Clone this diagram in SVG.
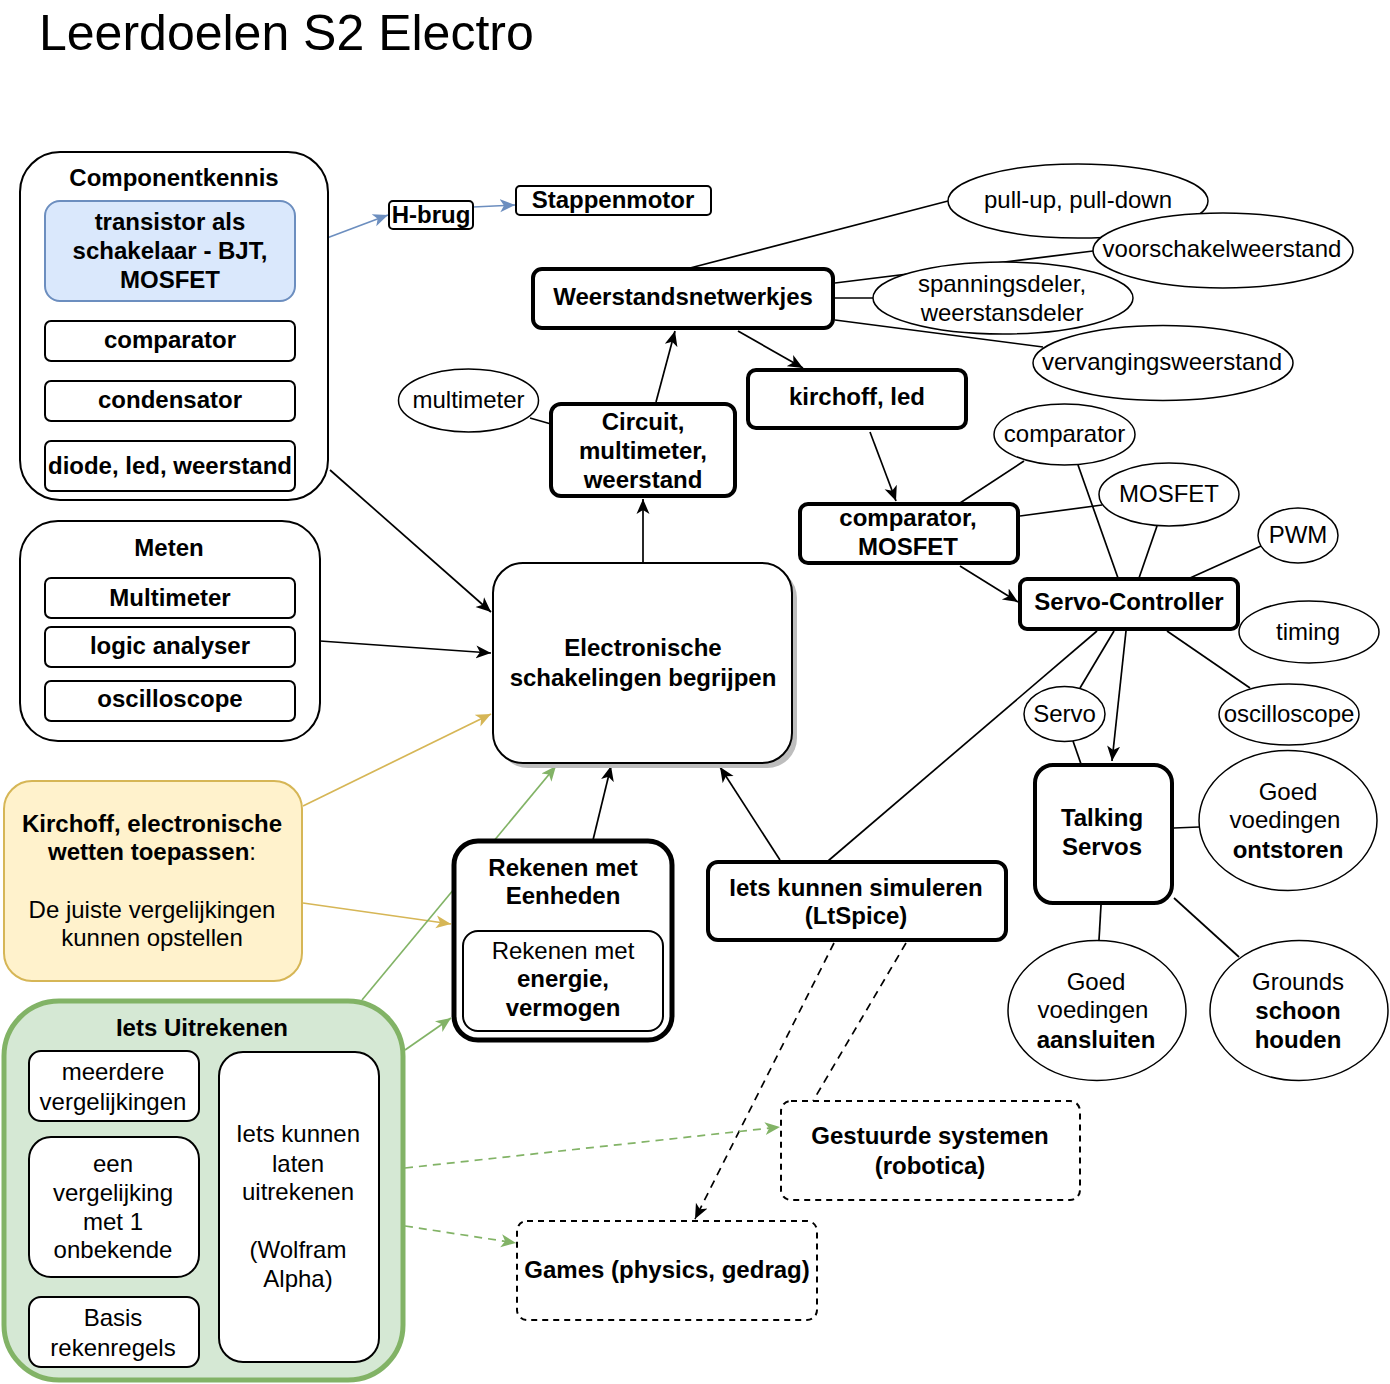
<svg xmlns="http://www.w3.org/2000/svg" width="1390" height="1384" viewBox="0 0 1390 1384">
<defs>
<style>
text{font-family:"Liberation Sans",Arial,Helvetica,sans-serif;font-size:24px;text-anchor:middle;fill:#000}
.b{font-weight:bold}
.n{font-weight:normal}
.t{font-size:50px;text-anchor:start}
.box{fill:#fff;stroke:#000;stroke-width:2}
.thick{fill:#fff;stroke:#000;stroke-width:4}
.ell{fill:#fff;stroke:#000;stroke-width:1.5}
.dash{fill:#fff;stroke:#000;stroke-width:2;stroke-dasharray:6 5}
.ln{fill:none;stroke:#000;stroke-width:1.7}
.blue{fill:none;stroke:#6c8ebf;stroke-width:1.7}
.yel{fill:none;stroke:#d6b656;stroke-width:1.7}
.grn{fill:none;stroke:#82b366;stroke-width:1.7}
.dl{stroke-dasharray:8 6}
</style>
<marker id="ak" viewBox="0 0 15 15" refX="15" refY="7.5" markerWidth="15" markerHeight="15" markerUnits="userSpaceOnUse" orient="auto"><path d="M0,1 L15,7.5 L0,14 L4,7.5 Z" fill="#000"/></marker>
<marker id="ab" viewBox="0 0 15 15" refX="15" refY="7.5" markerWidth="15" markerHeight="15" markerUnits="userSpaceOnUse" orient="auto"><path d="M0,1 L15,7.5 L0,14 L4,7.5 Z" fill="#6c8ebf"/></marker>
<marker id="ay" viewBox="0 0 15 15" refX="15" refY="7.5" markerWidth="15" markerHeight="15" markerUnits="userSpaceOnUse" orient="auto"><path d="M0,1 L15,7.5 L0,14 L4,7.5 Z" fill="#d6b656"/></marker>
<marker id="ag" viewBox="0 0 15 15" refX="15" refY="7.5" markerWidth="15" markerHeight="15" markerUnits="userSpaceOnUse" orient="auto"><path d="M0,1 L15,7.5 L0,14 L4,7.5 Z" fill="#82b366"/></marker>
</defs>
<rect x="0" y="0" width="1390" height="1384" fill="#fff"/>
<text class="t" x="39" y="50">Leerdoelen S2 Electro</text>

<g id="connectors">
<path class="blue" d="M295,250 L388,215" marker-end="url(#ab)"/>
<path class="blue" d="M473,207 L515,205" marker-end="url(#ab)"/>
<path class="ln" d="M330,470 L491,612" marker-end="url(#ak)"/>
<path class="ln" d="M320,641 L491,653" marker-end="url(#ak)"/>
<path class="ln" d="M643,563 L643,499" marker-end="url(#ak)"/>
<path class="ln" d="M656,402 L675,331" marker-end="url(#ak)"/>
<path class="ln" d="M738,331 L803,368" marker-end="url(#ak)"/>
<path class="ln" d="M870,432 L896,501" marker-end="url(#ak)"/>
<path class="ln" d="M960,566 L1018,602" marker-end="url(#ak)"/>
<path class="ln" d="M593,840 L611,766" marker-end="url(#ak)"/>
<path class="ln" d="M780,860 L720,767" marker-end="url(#ak)"/>
<path class="ln" d="M1126,631 L1112,761" marker-end="url(#ak)"/>
<path class="ln" d="M530,418 L551,424"/>
<path class="ln" d="M690,268 L948,201"/>
<path class="ln" d="M835,283 L1093,251"/>
<path class="ln" d="M835,298 L873,298"/>
<path class="ln" d="M835,320 L1043,347"/>
<path class="ln" d="M960,503 L1024,461"/>
<path class="ln" d="M1020,516 L1102,505"/>
<path class="ln" d="M1078,465 L1118,578"/>
<path class="ln" d="M1157,526 L1139,578"/>
<path class="ln" d="M1261,546 L1190,578"/>
<path class="ln" d="M1097,631 L828,861"/>
<path class="ln" d="M1114,631 L1080,688"/>
<path class="ln" d="M1167,631 L1250,688"/>
<path class="ln" d="M1073,741 L1081,764"/>
<path class="ln" d="M1174,828 L1199,827"/>
<path class="ln" d="M1101,905 L1099,940"/>
<path class="ln" d="M1174,898 L1239,957"/>
<path class="ln dl" d="M834,943 L695,1219" marker-end="url(#ak)"/>
<path class="ln dl" d="M906,943 L813,1101"/>
<path class="yel" d="M303,806 L491,714" marker-end="url(#ay)"/>
<path class="yel" d="M303,903 L451,924" marker-end="url(#ay)"/>
<path class="grn" d="M362,1000 L556,766" marker-end="url(#ag)"/>
<path class="grn" d="M405,1050 L451,1018" marker-end="url(#ag)"/>
<path class="grn dl" d="M405,1168 L780,1127" marker-end="url(#ag)"/>
<path class="grn dl" d="M405,1226 L516,1243" marker-end="url(#ag)"/>
</g>

<g id="componentkennis">
<rect class="box" x="20" y="152" width="308" height="348" rx="40"/>
<text class="b" x="174" y="186">Componentkennis</text>
</g>
<g id="transistor">
<rect x="45" y="201" width="250" height="100" rx="15" fill="#dae8fc" stroke="#6c8ebf" stroke-width="2"/>
<text class="b" x="170" y="230">transistor als</text>
<text class="b" x="170" y="259">schakelaar - BJT,</text>
<text class="b" x="170" y="288">MOSFET</text>
</g>
<g id="comparator-k">
<rect class="box" x="45" y="321" width="250" height="40" rx="6"/>
<text class="b" x="170" y="348">comparator</text>
</g>
<g id="condensator">
<rect class="box" x="45" y="381" width="250" height="40" rx="6"/>
<text class="b" x="170" y="408">condensator</text>
</g>
<g id="diode">
<rect class="box" x="45" y="441" width="250" height="50" rx="6"/>
<text class="b" x="170" y="474">diode, led, weerstand</text>
</g>

<g id="hbrug">
<rect class="box" x="389" y="201" width="84" height="28" rx="4"/>
<text class="b" x="431" y="223">H-brug</text>
</g>
<g id="stappenmotor">
<rect class="box" x="516" y="186" width="195" height="29" rx="4"/>
<text class="b" x="613" y="208">Stappenmotor</text>
</g>

<g id="meten">
<rect class="box" x="20" y="521" width="300" height="220" rx="38"/>
<text class="b" x="169" y="556">Meten</text>
</g>
<g id="multimeter-m">
<rect class="box" x="45" y="578" width="250" height="40" rx="6"/>
<text class="b" x="170" y="606">Multimeter</text>
</g>
<g id="logic">
<rect class="box" x="45" y="627" width="250" height="40" rx="6"/>
<text class="b" x="170" y="654">logic analyser</text>
</g>
<g id="oscilloscope-m">
<rect class="box" x="45" y="681" width="250" height="40" rx="6"/>
<text class="b" x="170" y="707">oscilloscope</text>
</g>

<g id="kirchoff-wetten">
<rect x="4" y="781" width="298" height="200" rx="28" fill="#fff2cc" stroke="#d6b656" stroke-width="2"/>
<text class="b" x="152" y="832">Kirchoff, electronische</text>
<text class="b" x="152" y="860">wetten toepassen<tspan class="n">:</tspan></text>
<text x="152" y="918">De juiste vergelijkingen</text>
<text x="152" y="946">kunnen opstellen</text>
</g>

<g id="electronische">
<rect x="498" y="568" width="299" height="200" rx="30" fill="#bdbdbd"/>
<rect class="box" x="493" y="563" width="299" height="200" rx="30"/>
<text class="b" x="643" y="656">Electronische</text>
<text class="b" x="643" y="686">schakelingen begrijpen</text>
</g>

<g id="weerstandsnetwerkjes">
<rect class="thick" x="533" y="269" width="300" height="59" rx="9"/>
<text class="b" x="683" y="305">Weerstandsnetwerkjes</text>
</g>
<g id="multimeter-e">
<ellipse class="ell" cx="468.5" cy="400.5" rx="70" ry="31.5"/>
<text x="468.5" y="408">multimeter</text>
</g>
<g id="circuit">
<rect class="thick" x="551" y="404" width="184" height="92" rx="10"/>
<text class="b" x="643" y="430">Circuit,</text>
<text class="b" x="643" y="459">multimeter,</text>
<text class="b" x="643" y="488">weerstand</text>
</g>
<g id="kirchoff-led">
<rect class="thick" x="748" y="370" width="218" height="58" rx="8"/>
<text class="b" x="857" y="405">kirchoff, led</text>
</g>

<g id="pullup">
<ellipse class="ell" cx="1078" cy="201" rx="130" ry="37"/>
<text x="1078" y="208">pull-up, pull-down</text>
</g>
<g id="voorschakel">
<ellipse class="ell" cx="1223" cy="250.5" rx="130" ry="37.5"/>
<text x="1222" y="257">voorschakelweerstand</text>
</g>
<g id="spanningsdeler">
<ellipse class="ell" cx="1003" cy="298" rx="130" ry="36"/>
<text x="1002" y="292">spanningsdeler,</text>
<text x="1002" y="321">weerstansdeler</text>
</g>
<g id="vervanging">
<ellipse class="ell" cx="1163" cy="363" rx="130" ry="37.5"/>
<text x="1162" y="370">vervangingsweerstand</text>
</g>

<g id="comparator-mosfet">
<rect class="thick" x="800" y="504" width="218" height="59" rx="8"/>
<text class="b" x="908" y="526">comparator,</text>
<text class="b" x="908" y="555">MOSFET</text>
</g>
<g id="comparator-e">
<ellipse class="ell" cx="1064.5" cy="434.5" rx="70.5" ry="30.5"/>
<text x="1064.5" y="442">comparator</text>
</g>
<g id="mosfet-e">
<ellipse class="ell" cx="1169" cy="494.5" rx="70" ry="31.5"/>
<text x="1169" y="502">MOSFET</text>
</g>
<g id="pwm">
<ellipse class="ell" cx="1298" cy="535.5" rx="40" ry="27.5"/>
<text x="1298" y="543">PWM</text>
</g>
<g id="servo-controller">
<rect class="thick" x="1020" y="579" width="218" height="50" rx="7"/>
<text class="b" x="1129" y="610">Servo-Controller</text>
</g>
<g id="timing">
<ellipse class="ell" cx="1309" cy="632" rx="70" ry="31"/>
<text x="1308" y="640">timing</text>
</g>
<g id="oscilloscope-e">
<ellipse class="ell" cx="1289" cy="714.5" rx="70" ry="30.5"/>
<text x="1289" y="722">oscilloscope</text>
</g>
<g id="servo">
<ellipse class="ell" cx="1064.5" cy="714" rx="40.5" ry="27.5"/>
<text x="1064.5" y="722">Servo</text>
</g>
<g id="talking-servos">
<rect class="thick" x="1035" y="765" width="137" height="138" rx="18"/>
<text class="b" x="1102" y="826">Talking</text>
<text class="b" x="1102" y="855">Servos</text>
</g>
<g id="ontstoren">
<ellipse class="ell" cx="1288" cy="820.5" rx="89" ry="70"/>
<text x="1288" y="800">Goed</text>
<text x="1285" y="828">voedingen</text>
<text class="b" x="1288" y="858">ontstoren</text>
</g>
<g id="aansluiten">
<ellipse class="ell" cx="1097" cy="1010.5" rx="89" ry="70"/>
<text x="1096" y="990">Goed</text>
<text x="1093" y="1018">voedingen</text>
<text class="b" x="1096" y="1048">aansluiten</text>
</g>
<g id="grounds">
<ellipse class="ell" cx="1299" cy="1010.5" rx="89" ry="70"/>
<text x="1298" y="990">Grounds</text>
<text class="b" x="1298" y="1019">schoon</text>
<text class="b" x="1298" y="1048">houden</text>
</g>

<g id="simuleren">
<rect class="thick" x="708" y="862" width="298" height="78" rx="10"/>
<text class="b" x="856" y="896">Iets kunnen simuleren</text>
<text class="b" x="856" y="924">(LtSpice)</text>
</g>

<g id="rekenen">
<rect x="454" y="841" width="218" height="199" rx="24" fill="#fff" stroke="#000" stroke-width="5"/>
<text class="b" x="563" y="876">Rekenen met</text>
<text class="b" x="563" y="904">Eenheden</text>
</g>
<g id="energie">
<rect class="box" x="463" y="931" width="200" height="100" rx="15"/>
<text x="563" y="959">Rekenen met</text>
<text class="b" x="563" y="987">energie,</text>
<text class="b" x="563" y="1016">vermogen</text>
</g>

<g id="uitrekenen">
<rect x="4" y="1001" width="399" height="379" rx="55" fill="#d5e8d4" stroke="#82b366" stroke-width="5"/>
<text class="b" x="202" y="1036">Iets Uitrekenen</text>
</g>
<g id="meerdere">
<rect class="box" x="29" y="1051" width="170" height="70" rx="12"/>
<text x="113" y="1080">meerdere</text>
<text x="113" y="1110">vergelijkingen</text>
</g>
<g id="een-vergelijking">
<rect class="box" x="29" y="1137" width="170" height="140" rx="22"/>
<text x="113" y="1172">een</text>
<text x="113" y="1201">vergelijking</text>
<text x="113" y="1230">met 1</text>
<text x="113" y="1258">onbekende</text>
</g>
<g id="basis">
<rect class="box" x="29" y="1297" width="170" height="70" rx="12"/>
<text x="113" y="1326">Basis</text>
<text x="113" y="1356">rekenregels</text>
</g>
<g id="wolfram">
<rect class="box" x="219" y="1052" width="160" height="310" rx="24"/>
<text x="298" y="1142">Iets kunnen</text>
<text x="298" y="1172">laten</text>
<text x="298" y="1200">uitrekenen</text>
<text x="298" y="1258">(Wolfram</text>
<text x="298" y="1287">Alpha)</text>
</g>

<g id="gestuurde">
<rect class="dash" x="781" y="1101" width="299" height="99" rx="10"/>
<text class="b" x="930" y="1144">Gestuurde systemen</text>
<text class="b" x="930" y="1174">(robotica)</text>
</g>
<g id="games">
<rect class="dash" x="517" y="1221" width="300" height="99" rx="10"/>
<text class="b" x="667" y="1278">Games (physics, gedrag)</text>
</g>
</svg>
